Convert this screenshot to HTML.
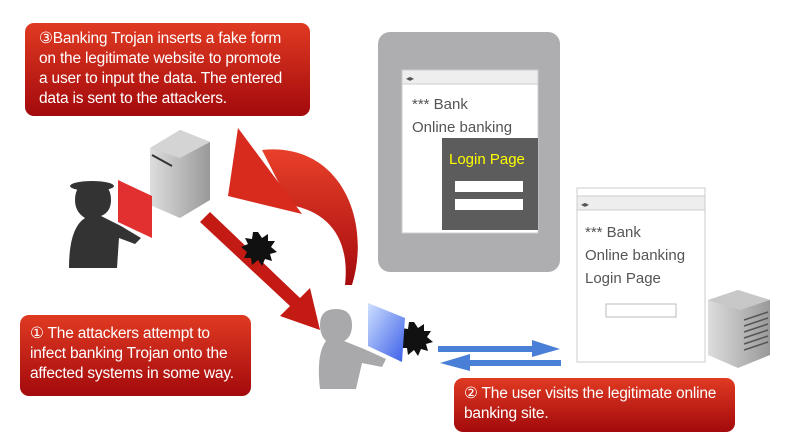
<!DOCTYPE html>
<html><head><meta charset="utf-8"><style>
body{margin:0;background:#fff;width:800px;height:442px;overflow:hidden;position:relative;font-family:"Liberation Sans",sans-serif}
.b{position:absolute;border-radius:9px;background:linear-gradient(#e03a22,#a30a0c);color:#fff;font-size:15.5px;line-height:20px;padding:6px 8px;box-sizing:border-box;letter-spacing:-0.2px}
.t{position:absolute;color:#555;font-size:15px}
</style></head><body>
<svg width="800" height="442" style="position:absolute;left:0;top:0">
<defs>
<linearGradient id="rg" x1="0" y1="0" x2="0" y2="1"><stop offset="0" stop-color="#e8402a"/><stop offset="1" stop-color="#a50b0d"/></linearGradient>
<linearGradient id="sv" x1="0" y1="0" x2="1" y2="0"><stop offset="0" stop-color="#ddd"/><stop offset="1" stop-color="#999"/></linearGradient>
<linearGradient id="mon" x1="0" y1="0" x2="1" y2="1"><stop offset="0" stop-color="#cfe0ff"/><stop offset="1" stop-color="#3a5ee8"/></linearGradient>
</defs>
<rect x="378" y="32" width="182" height="240" rx="12" fill="#aeaeb1"/>
<rect x="402" y="70" width="136" height="163" fill="#fff" stroke="#ccc"/>
<rect x="402" y="70" width="136" height="14" fill="#eee" stroke="#ccc"/>
<text x="406" y="81" font-size="8" fill="#555">◂▸</text>
<rect x="442" y="138" width="96" height="92" fill="#5c5c5c"/>
<rect x="455" y="181" width="68" height="11" fill="#fff"/>
<rect x="455" y="199" width="68" height="11" fill="#fff"/>
<rect x="577" y="188" width="128" height="174" fill="#fff" stroke="#ccc"/>
<rect x="577" y="196" width="128" height="14" fill="#eee" stroke="#ccc"/>
<text x="581" y="207" font-size="8" fill="#555">◂▸</text>
<rect x="606" y="304" width="70" height="13" fill="#fff" stroke="#bbb"/>
<polygon points="708,300 738,290 770,300 770,355 738,368 708,355" fill="url(#sv)"/>
<polygon points="708,300 738,290 770,300 740,310" fill="#c8c8c8"/>
<g stroke="#555" stroke-width="1.5"><line x1="744" y1="320" x2="768" y2="312"/><line x1="744" y1="326" x2="768" y2="318"/><line x1="744" y1="332" x2="768" y2="324"/><line x1="744" y1="338" x2="768" y2="330"/><line x1="744" y1="344" x2="768" y2="336"/><line x1="744" y1="350" x2="768" y2="342"/></g>
<polygon points="150,148 180,130 210,142 210,200 180,218 150,205" fill="url(#sv)"/>
<polygon points="150,148 180,130 210,142 180,158" fill="#d4d4d4"/>
<line x1="152" y1="155" x2="172" y2="166" stroke="#333" stroke-width="2"/>
<polygon points="118,180 152,196 152,238 118,222" fill="#e23030"/>
<path d="M75,200 q0,-18 18,-18 q18,0 18,18 q0,12 -10,16 l20,10 l20,12 l-6,6 l-16,-6 l-2,30 h-48 q0,-40 16,-50 q-10,-6 -10,-18z" fill="#333"/>
<ellipse cx="92" cy="186" rx="22" ry="5" fill="#333"/>
<path d="M345,285 C350,240 330,212 290,205 L262,150 C340,142 372,220 352,285z" fill="url(#rg)"/>
<polygon points="238,128 228,196 302,214" fill="#d92a1e"/>
<polygon points="200,222 210,212 300,298 310,288 320,330 280,316 290,306" fill="#c41a14"/>
<g fill="#111">
<polygon points="258,232 262,238 268,234 268,241 275,241 271,247 277,252 270,254 272,261 265,259 262,266 258,260 252,265 251,258 244,258 247,252 241,247 248,244 245,238 252,239 253,232"/>
<polygon points="414,322 418,328 424,324 424,331 431,331 427,337 433,342 426,344 428,351 421,349 418,356 414,350 408,355 407,348 400,348 403,342 397,337 404,334 401,328 408,329 409,322"/>
</g>
<polygon points="368,303 405,318 402,362 368,346" fill="url(#mon)"/>
<path d="M320,325 q0,-16 16,-16 q16,0 16,16 q0,12 -8,16 l20,8 l22,10 l-4,8 l-20,-4 l-6,26 h-36 q-4,-35 6,-48 q-6,-6 -6,-16z" fill="#a9a9ab"/>
<rect x="438" y="346" width="100" height="6" fill="#4a7fd8"/><polygon points="532,340 560,349 532,357" fill="#4a7fd8"/>
<rect x="465" y="360" width="96" height="6" fill="#4a7fd8"/><polygon points="470,354 440,363 470,371" fill="#4a7fd8"/>
</svg>
<div class="t" style="left:412px;top:96px">*** Bank</div>
<div class="t" style="left:412px;top:119px">Online banking</div>
<div class="t" style="left:449px;top:151px;color:#ffff00">Login Page</div>
<div class="t" style="left:585px;top:224px">*** Bank</div>
<div class="t" style="left:585px;top:247px">Online banking</div>
<div class="t" style="left:585px;top:270px">Login Page</div>
<div class="b" style="left:25px;top:23px;width:285px;height:93px;padding-left:14px">③Banking Trojan inserts a fake form<br>on the legitimate website to promote<br>a user to input the data. The entered<br>data is sent to the attackers.</div>
<div class="b" style="left:20px;top:315px;width:231px;height:81px;padding-top:9px;padding-left:10px">① The attackers attempt to<br>infect banking Trojan onto the<br>affected systems in some way.</div>
<div class="b" style="left:454px;top:378px;width:281px;height:54px;padding-left:10px;padding-top:6px">② The user visits the legitimate online<br>banking site.</div>
</body></html>
